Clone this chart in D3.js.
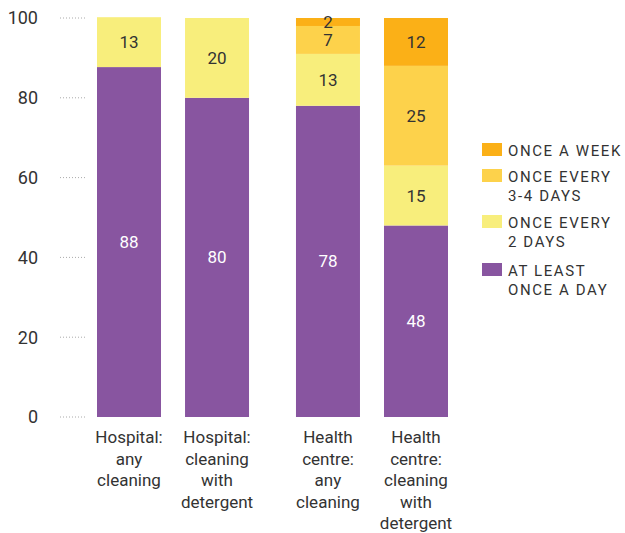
<!DOCTYPE html>
<html>
<head>
<meta charset="utf-8">
<script src="https://cdn.jsdelivr.net/npm/d3@7"></script>
<style>
  body { margin: 0; background: #fff; }
  text { font-family: Roboto, "Noto Sans", sans-serif; }
</style>
</head>
<body>
<div id="chart"></div>
<script>
// data
var groups = ["Hospital", "Health centre"];
var kinds = ["any", "detergent"];
var catLabels = [
    ["Hospital:", "any", "cleaning"],
    ["Hospital:", "cleaning", "with", "detergent"],
    ["Health", "centre:", "any", "cleaning"],
    ["Health", "centre:", "cleaning", "with", "detergent"]
];
var seriesNames = ["AT LEAST\nONCE A DAY", "ONCE EVERY\n2 DAYS", "ONCE EVERY\n3-4 DAYS", "ONCE A WEEK"];
var daily = [87.7, 80, 78, 48];
var twoDays = [12.5, 20, 13, 15];
var threeFour = [0, 0, 7, 25];
var weekly = [0, 0, 2, 12];
var yTicks = [0, 20, 40, 60, 80, 100];
var colors = ["#8855a0", "#f8ee7c", "#fdd24b", "#fbb017"];

var series = [daily, twoDays, threeFour, weekly];
var rows = [];
groups.forEach(function(g, gi) {
    kinds.forEach(function(k, ki) {
        var i = gi * 2 + ki;
        rows.push({group: g, kind: k, idx: i, vals: series.map(function(s) { return s[i]; })});
    });
});

var width = 625, height = 533;
var svg = d3.select("#chart").append("svg")
    .attr("width", width)
    .attr("height", height);

var y = d3.scaleLinear().domain([0, 100]).range([417, 18]);
var xOuter = d3.scaleBand().domain(groups).range([97, 448]).paddingInner(0.236).paddingOuter(0);
var xInner = d3.scaleBand().domain(kinds).range([0, xOuter.bandwidth()]).paddingInner(0.273).paddingOuter(0);

// y axis ticks (dotted stubs)
var yAxis = svg.append("g");
yAxis.selectAll("line").data(yTicks).enter().append("line")
    .attr("x1", 60).attr("x2", 85)
    .attr("y1", function(d) { return y(d); })
    .attr("y2", function(d) { return y(d); })
    .attr("stroke", "#aaa")
    .attr("stroke-dasharray", "1,2");
yAxis.selectAll("text").data(yTicks).enter().append("text")
    .attr("x", 38)
    .attr("y", function(d) { return y(d); })
    .attr("dy", "0.35em")
    .attr("text-anchor", "end")
    .attr("font-size", 18)
    .attr("fill", "#333")
    .text(function(d) { return d; });

// stacked bars
var bars = svg.append("g").selectAll("g.bar").data(rows).enter().append("g")
    .attr("class", "bar")
    .attr("transform", function(d) { return "translate(" + (xOuter(d.group) + xInner(d.kind)) + ",0)"; });

bars.each(function(d) {
    var g = d3.select(this);
    var base = 0;
    d.vals.forEach(function(v, si) {
        if (v > 0) {
            g.append("rect")
                .attr("x", 0)
                .attr("width", xInner.bandwidth())
                .attr("y", y(base + v))
                .attr("height", y(base) - y(base + v))
                .attr("fill", colors[si]);
            g.append("text")
                .attr("x", xInner.bandwidth() / 2)
                .attr("y", y(base + v / 2))
                .attr("dy", "0.35em")
                .attr("text-anchor", "middle")
                .attr("font-size", 17)
                .attr("fill", si == 0 ? "#fff" : "#333")
                .text(Math.round(v));
        }
        base += v;
    });
    // category label
    var lbl = g.append("text")
        .attr("text-anchor", "middle")
        .attr("font-size", 17)
        .attr("fill", "#333");
    catLabels[d.idx].forEach(function(line, li) {
        lbl.append("tspan")
            .attr("x", xInner.bandwidth() / 2)
            .attr("y", 443 + li * 21.5)
            .text(line);
    });
});

// legend (top series first)
var legendY = [143, 169, 215, 263];
var legend = svg.append("g");
[3, 2, 1, 0].forEach(function(si, li) {
    legend.append("rect")
        .attr("x", 482).attr("y", legendY[li])
        .attr("width", 20).attr("height", 13)
        .attr("fill", colors[si]);
    var t = legend.append("text")
        .attr("font-size", 15)
        .attr("letter-spacing", 1.6)
        .attr("fill", "#333");
    seriesNames[si].split("\n").forEach(function(line, i) {
        t.append("tspan")
            .attr("x", 508)
            .attr("y", legendY[li] + 13 + i * 19)
            .text(line);
    });
});
</script>
</body>
</html>
